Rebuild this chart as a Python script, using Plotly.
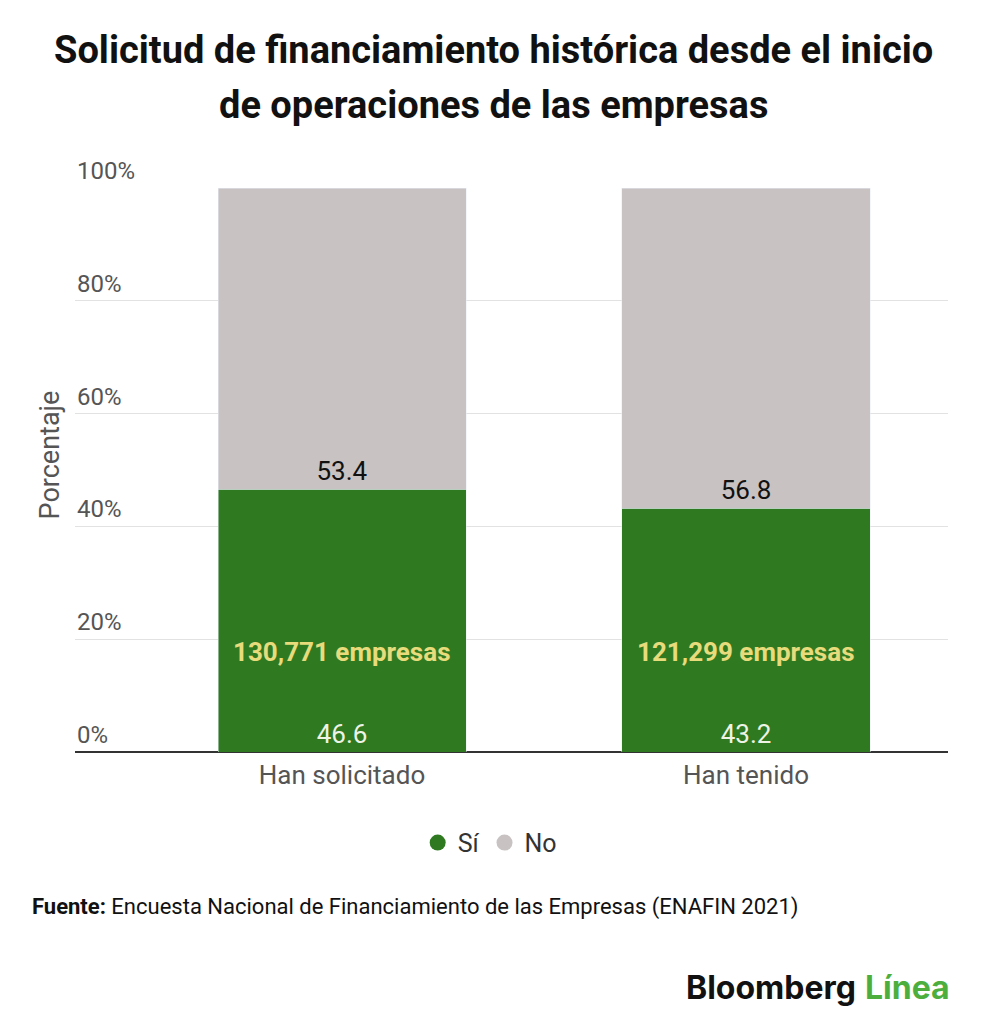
import plotly.graph_objects as go

# Data
categories = ["Han solicitado", "Han tenido"]
si_values = [46.6, 43.2]
no_values = [53.4, 56.8]
empresas_labels = ["130,771 empresas", "121,299 empresas"]
y_ticks = [0, 20, 40, 60, 80, 100]

green = "#2f7a21"
gray = "#c8c2c2"
xpos = list(range(len(categories)))

fig = go.Figure()

fig.add_trace(go.Bar(
    x=xpos, y=si_values, name="Sí", marker_color=green, width=0.614,
    text=[f"{v:.1f}" for v in si_values], textposition="inside",
    insidetextanchor="start", textangle=0,
    textfont=dict(color="#eef3e6", size=26, family="Roboto"),
    showlegend=False,
))
fig.add_trace(go.Bar(
    x=xpos, y=no_values, name="No", marker_color=gray, width=0.614,
    text=[f"{v:.1f}" for v in no_values], textposition="inside",
    insidetextanchor="start", textangle=0,
    textfont=dict(color="#111111", size=26, family="Roboto"),
    showlegend=False,
))

# legend with round markers
for name, col in [("Sí", green), ("No", gray)]:
    fig.add_trace(go.Scatter(
        x=[None], y=[None], mode="markers", name=name,
        marker=dict(symbol="circle", size=26, color=col),
    ))

# company count labels inside green bars
for i, lab in enumerate(empresas_labels):
    fig.add_annotation(
        x=xpos[i], y=17.7, xref="x", yref="y", text=f"<b>{lab}</b>",
        showarrow=False, font=dict(color="#e8db7c", size=26, family="Roboto"),
    )

# y tick labels sitting above the gridlines
for t in y_ticks:
    fig.add_annotation(
        x=0, y=t, xref="paper", yref="y", xanchor="left", yanchor="bottom",
        yshift=1, text=f"{t}%", showarrow=False,
        font=dict(size=24, color="#555555"),
    )

# title, two lines
title_lines = ["Solicitud de financiamiento histórica desde el inicio",
               "de operaciones de las empresas"]
for line, yy in zip(title_lines, [1.2447, 1.147]):
    fig.add_annotation(
        x=0.479, y=yy, xref="paper", yref="paper", xanchor="center",
        yanchor="middle", text=f"<b>{line}</b>", showarrow=False,
        font=dict(size=38, color="#111111", family="Roboto"),
    )

fig.update_layout(
    barmode="stack",
    width=1000, height=1030,
    margin=dict(l=67, r=60, t=180, b=286),
    paper_bgcolor="white", plot_bgcolor="white",
    font=dict(family="Roboto", color="#555555"),
    xaxis=dict(
        range=[-0.661, 1.5], tickvals=xpos, ticktext=categories,
        showgrid=False, zeroline=False, showline=False,
        tickfont=dict(size=26, color="#555555"), ticks="",
        ticklabelstandoff=5,
    ),
    yaxis=dict(
        range=[0, 100], tickvals=y_ticks, showticklabels=False,
        showgrid=True, gridcolor="#e2e2e2",
        gridwidth=1, zeroline=True, zerolinecolor="#333333", zerolinewidth=2,
    ),
    legend=dict(
        orientation="h", x=0.475, xanchor="center", y=-0.161, yanchor="middle",
        font=dict(size=25, color="#333333"), traceorder="normal",
    ),
)

fig.add_annotation(
    x=-0.029, y=0.527, xref="paper", yref="paper", xanchor="center",
    yanchor="middle", text="Porcentaje",
    textangle=-90, showarrow=False, font=dict(size=27, color="#555555"),
)
fig.add_annotation(
    x=-0.0515, y=-0.275, xref="paper", yref="paper", xanchor="left",
    yanchor="middle",
    text="<b>Fuente:</b> Encuesta Nacional de Financiamiento de las Empresas (ENAFIN 2021)",
    showarrow=False, font=dict(size=22, color="#111111"),
)
fig.add_annotation(
    x=1.0046, y=-0.417, xref="paper", yref="paper", xanchor="right",
    yanchor="middle",
    text="<b>Bloomberg</b> <b><span style='color:#4caf3d'>Línea</span></b>",
    showarrow=False, font=dict(size=32, color="#111111", family="Inter"),
)

fig.write_html("out.html")
